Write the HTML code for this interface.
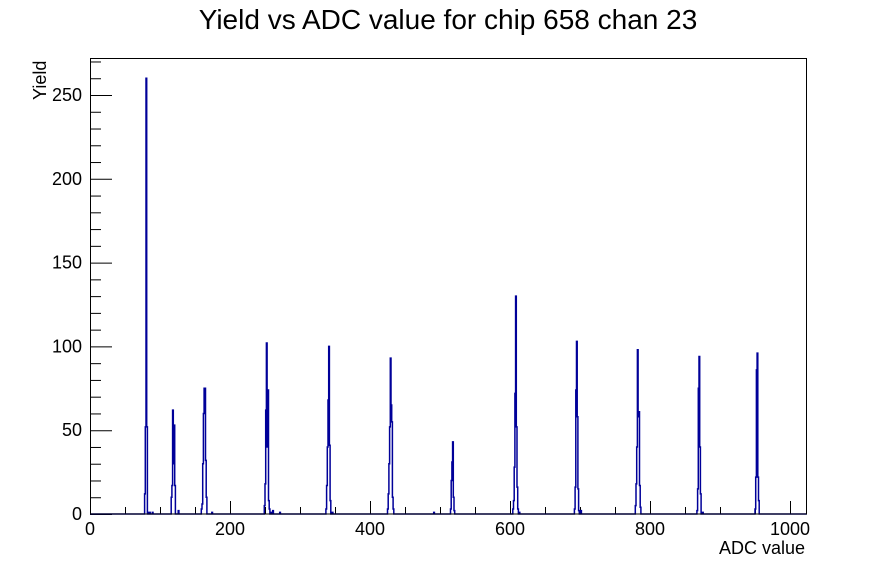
<!DOCTYPE html>
<html><head><meta charset="utf-8"><style>
html,body{margin:0;padding:0;background:#fff;}
svg{display:block;font-family:"Liberation Sans",sans-serif;}
</style></head><body>
<svg id="s" width="896" height="572" viewBox="0 0 896 572" xmlns="http://www.w3.org/2000/svg">
<rect width="896" height="572" fill="#fff"/>
<text x="448" y="29" font-size="28" text-anchor="middle" fill="#000">Yield vs ADC value for chip 658 chan 23</text>
<g id="ax" stroke="#000" stroke-width="1" fill="none"></g>
<path id="h" fill="none" stroke="#000099" stroke-width="1.5"/>
<rect x="90.5" y="58.5" width="716" height="455.5" fill="none" stroke="#000" stroke-width="1"/>
<g id="lab" font-size="18" fill="#000"></g>
<text x="805" y="554" font-size="18" text-anchor="end">ADC value</text>
<text transform="translate(46,100) rotate(-90)" font-size="18">Yield</text>
</svg>
<script>
var X=function(b){return 90+0.7*b;}, Y=function(v){return 514-1.676*v;};
var data={};
var peaks=[
[78,[12,52,260,52]],
[116,[10,17,62,30,53,17]],
[159,[3,6,30,60,75,75,32,10]],
[249,[5,18,62,102,40,74,8,3]],
[337,[3,17,40,68,100,41,8]],
[425,[3,12,30,52,93,65,55,10,3]],
[515,[3,20,31,43,10,2]],
[604,[3,8,28,72,130,52,16,3]],
[692,[3,16,74,103,58,15,2]],
[779,[5,18,40,98,58,61,17,4]],
[867,[2,15,75,94,40,12]],
[950,[3,22,86,96,22,8]]];
peaks.forEach(function(p){p[1].forEach(function(v,i){data[p[0]+i]=v;});});
[[84,1],[85,1],[89,1],[126,2],[174,1],[259,1],[261,2],[271,1],[346,1],[491,1],[613,1],[701,2],[875,1]].forEach(function(a){if(!data[a[0]])data[a[0]]=a[1];});
var d="M"+X(0)+" "+Y(0);
for(var b=0;b<1024;b++){var v=data[b]||0;d+=" L"+X(b).toFixed(2)+" "+Y(v).toFixed(2)+" L"+X(b+1).toFixed(2)+" "+Y(v).toFixed(2);}
document.getElementById('h').setAttribute('d',d);
var ax="";
for(var t=0;t<=1000;t+=50){var x=X(t)+0.5;var L=(t%200==0)?13:7;ax+='<line x1="'+x+'" y1="514" x2="'+x+'" y2="'+(514-L)+'"/>';}
for(var v=0;v<=270;v+=10){var y=Y(v)+0.5;var L=(v%50==0)?22:11;ax+='<line x1="90" y1="'+y+'" x2="'+(90+L)+'" y2="'+y+'"/>';}
document.getElementById('ax').innerHTML=ax;
var lab="";
for(var t=0;t<=1000;t+=200){lab+='<text x="'+X(t)+'" y="535" text-anchor="middle">'+t+'</text>';}
for(var v=0;v<=250;v+=50){lab+='<text x="82" y="'+(Y(v)+6)+'" text-anchor="end">'+v+'</text>';}
document.getElementById('lab').innerHTML=lab;
</script>
</body></html>
